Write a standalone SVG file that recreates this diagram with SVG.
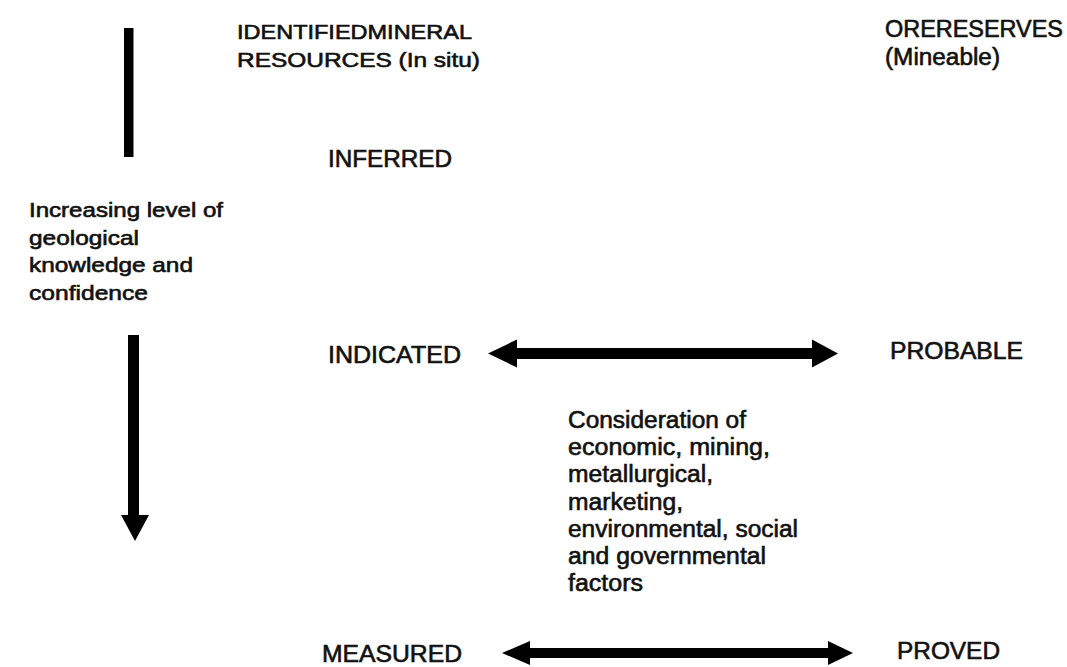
<svg xmlns="http://www.w3.org/2000/svg" width="1067" height="667" viewBox="0 0 1067 667">
  <style>
    text { font-family: "Liberation Sans", Arial, sans-serif; fill: #111; stroke: #111; stroke-width: 0.6; }
    .hdr { font-size: 20px; }
    .lbl { font-size: 23px; }
    .note { font-size: 20px; }
    .body { font-size: 23px; }
    .ink { fill: #000; }
  </style>
  <rect width="1067" height="667" fill="#fff"/>

  <g id="connectors">
    <rect class="ink" x="124" y="28" width="9.5" height="129"/>
    <g id="confidence-arrow">
      <rect class="ink" x="128" y="335" width="11" height="181"/>
      <polygon class="ink" points="121,515 149,515 135,541"/>
    </g>
    <polygon id="indicated-probable" class="ink" points="488,353.5 517,339.5 517,348 812,348 812,339.5 838,353.5 812,367.5 812,359 517,359 517,367.5"/>
    <polygon id="measured-proved" class="ink" points="502,653 530,641 530,648 828,648 828,641 853,653 828,665 828,658 530,658 530,665"/>
  </g>

  <g id="resources-header">
    <text class="hdr" x="237" y="39" textLength="235" lengthAdjust="spacingAndGlyphs">IDENTIFIEDMINERAL</text>
    <text class="hdr" x="237" y="67" textLength="243" lengthAdjust="spacingAndGlyphs">RESOURCES (In situ)</text>
  </g>

  <g id="reserves-header">
    <text class="lbl" x="885" y="37" textLength="178" lengthAdjust="spacingAndGlyphs">ORERESERVES</text>
    <text class="lbl" x="885" y="65" textLength="115" lengthAdjust="spacingAndGlyphs">(Mineable)</text>
  </g>

  <g id="confidence-label">
    <text class="note" x="29" y="217" textLength="194" lengthAdjust="spacingAndGlyphs">Increasing level of</text>
    <text class="note" x="29" y="244.5" textLength="110" lengthAdjust="spacingAndGlyphs">geological</text>
    <text class="note" x="29" y="272" textLength="164" lengthAdjust="spacingAndGlyphs">knowledge and</text>
    <text class="note" x="29" y="299.5" textLength="119" lengthAdjust="spacingAndGlyphs">confidence</text>
  </g>

  <g id="inferred">
    <text class="lbl" x="328" y="167" textLength="124" lengthAdjust="spacingAndGlyphs">INFERRED</text>
  </g>

  <g id="indicated">
    <text class="lbl" x="328" y="363" textLength="133" lengthAdjust="spacingAndGlyphs">INDICATED</text>
  </g>

  <g id="probable">
    <text class="lbl" x="890" y="359" textLength="133" lengthAdjust="spacingAndGlyphs">PROBABLE</text>
  </g>

  <g id="considerations">
    <text class="body" x="568" y="428" textLength="178" lengthAdjust="spacingAndGlyphs">Consideration of</text>
    <text class="body" x="568" y="455.2" textLength="202" lengthAdjust="spacingAndGlyphs">economic, mining,</text>
    <text class="body" x="568" y="482.4" textLength="145" lengthAdjust="spacingAndGlyphs">metallurgical,</text>
    <text class="body" x="568" y="509.6" textLength="115" lengthAdjust="spacingAndGlyphs">marketing,</text>
    <text class="body" x="568" y="536.8" textLength="230" lengthAdjust="spacingAndGlyphs">environmental, social</text>
    <text class="body" x="568" y="564" textLength="198" lengthAdjust="spacingAndGlyphs">and governmental</text>
    <text class="body" x="568" y="591.2" textLength="75" lengthAdjust="spacingAndGlyphs">factors</text>
  </g>

  <g id="measured">
    <text class="lbl" x="322" y="662" textLength="140" lengthAdjust="spacingAndGlyphs">MEASURED</text>
  </g>

  <g id="proved">
    <text class="lbl" x="897" y="659" textLength="103" lengthAdjust="spacingAndGlyphs">PROVED</text>
  </g>
</svg>
